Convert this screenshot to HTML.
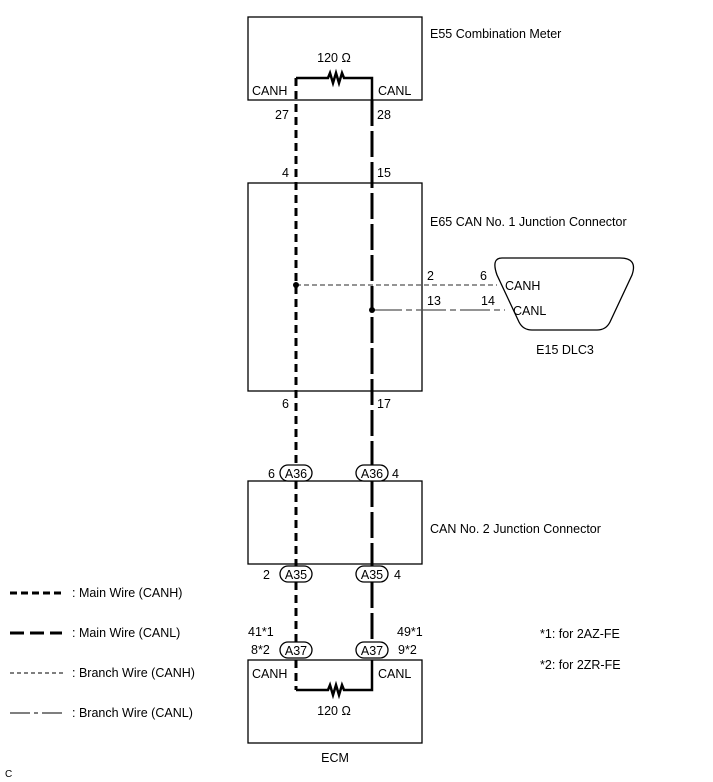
<!DOCTYPE html><html><head><style>body{margin:0;background:#fff}svg{display:block}text{font-family:"Liberation Sans",sans-serif;font-size:12.5px;fill:#000}</style></head><body>
<svg width="713" height="782" viewBox="0 0 713 782" xmlns="http://www.w3.org/2000/svg">
<g fill="none" stroke="#000" stroke-width="1.3">
<rect x="248" y="17" width="174" height="83"/>
<rect x="248" y="183" width="174" height="208"/>
<rect x="248" y="481" width="174" height="83"/>
<rect x="248" y="660" width="174" height="83"/>
<path d="M502,258 L620,258 Q638,258 632,275 L610,322 Q606,330 597,330 L532,330 Q523,330 519,322 L497,275 Q491,258 502,258 Z"/>
</g>
<!-- resistors -->
<g fill="none" stroke="#000" stroke-width="2.5">
<path d="M296,78 H328 l2,-5 l3,10 l3,-10 l3,10 l3,-10 l2,5 H372 V100"/>
<path d="M296,690 H328 l2,-5 l3,10 l3,-10 l3,10 l3,-10 l2,5 H372 V660"/>
</g>
<!-- CANH main -->
<g stroke="#000" stroke-width="3" stroke-dasharray="8,5" fill="none">
<path d="M296,78 V465"/><path d="M296,481 V566"/><path d="M296,582 V642"/><path d="M296,660 V690"/>
</g>
<!-- CANL main -->
<g stroke="#000" stroke-width="3" stroke-dasharray="26,5" fill="none">
<path d="M372,100 V465"/><path d="M372,481 V566"/><path d="M372,582 V642"/>
</g>
<path d="M296,285 H497" stroke="#555" stroke-width="1.2" stroke-dasharray="5,3"/>
<path d="M372,310 H505" stroke="#555" stroke-width="1.2" stroke-dasharray="30,4,6,4"/>
<circle cx="296" cy="285" r="3"/><circle cx="372" cy="310" r="3"/>
<g fill="#fff" stroke="#000" stroke-width="1.3">
<rect x="280" y="465" width="32" height="16" rx="8"/><rect x="356" y="465" width="32" height="16" rx="8"/>
<rect x="280" y="566" width="32" height="16" rx="8"/><rect x="356" y="566" width="32" height="16" rx="8"/>
<rect x="280" y="642" width="32" height="16" rx="8"/><rect x="356" y="642" width="32" height="16" rx="8"/>
</g>
<g text-anchor="middle">
<text x="296" y="478">A36</text><text x="372" y="478">A36</text>
<text x="296" y="579">A35</text><text x="372" y="579">A35</text>
<text x="296" y="655">A37</text><text x="372" y="655">A37</text>
<text x="334" y="62">120 Ω</text><text x="334" y="715">120 Ω</text>
<text x="335" y="762">ECM</text><text x="565" y="354">E15 DLC3</text>
</g>
<text x="430" y="38">E55 Combination Meter</text>
<text x="430" y="226">E65 CAN No. 1 Junction Connector</text>
<text x="430" y="533">CAN No. 2 Junction Connector</text>
<text x="252" y="95">CANH</text><text x="378" y="95">CANL</text>
<text x="252" y="678">CANH</text><text x="378" y="678">CANL</text>
<text x="275" y="119">27</text><text x="377" y="119">28</text>
<text x="282" y="177">4</text><text x="377" y="177">15</text>
<text x="282" y="408">6</text><text x="377" y="408">17</text>
<text x="268" y="478">6</text><text x="392" y="478">4</text>
<text x="263" y="579">2</text><text x="394" y="579">4</text>
<text x="248" y="636">41*1</text><text x="251" y="654">8*2</text>
<text x="397" y="636">49*1</text><text x="398" y="654">9*2</text>
<text x="427" y="280">2</text><text x="480" y="280">6</text>
<text x="427" y="305">13</text><text x="481" y="305">14</text>
<text x="505" y="290">CANH</text><text x="513" y="315">CANL</text>
<text x="540" y="638">*1: for 2AZ-FE</text><text x="540" y="669">*2: for 2ZR-FE</text>
<text x="72" y="597">: Main Wire (CANH)</text>
<text x="72" y="637">: Main Wire (CANL)</text>
<text x="72" y="677">: Branch Wire (CANH)</text>
<text x="72" y="717">: Branch Wire (CANL)</text>
<text x="5" y="777" style="font-size:10px">C</text>
<path d="M10,593 H62" stroke="#000" stroke-width="3" stroke-dasharray="7,4"/>
<path d="M10,633 H62" stroke="#000" stroke-width="3" stroke-dasharray="14,6"/>
<path d="M10,673 H66" stroke="#333" stroke-width="1.2" stroke-dasharray="4,3"/>
<path d="M10,713 H66" stroke="#333" stroke-width="1.2" stroke-dasharray="20,4,4,4"/>
</svg></body></html>
